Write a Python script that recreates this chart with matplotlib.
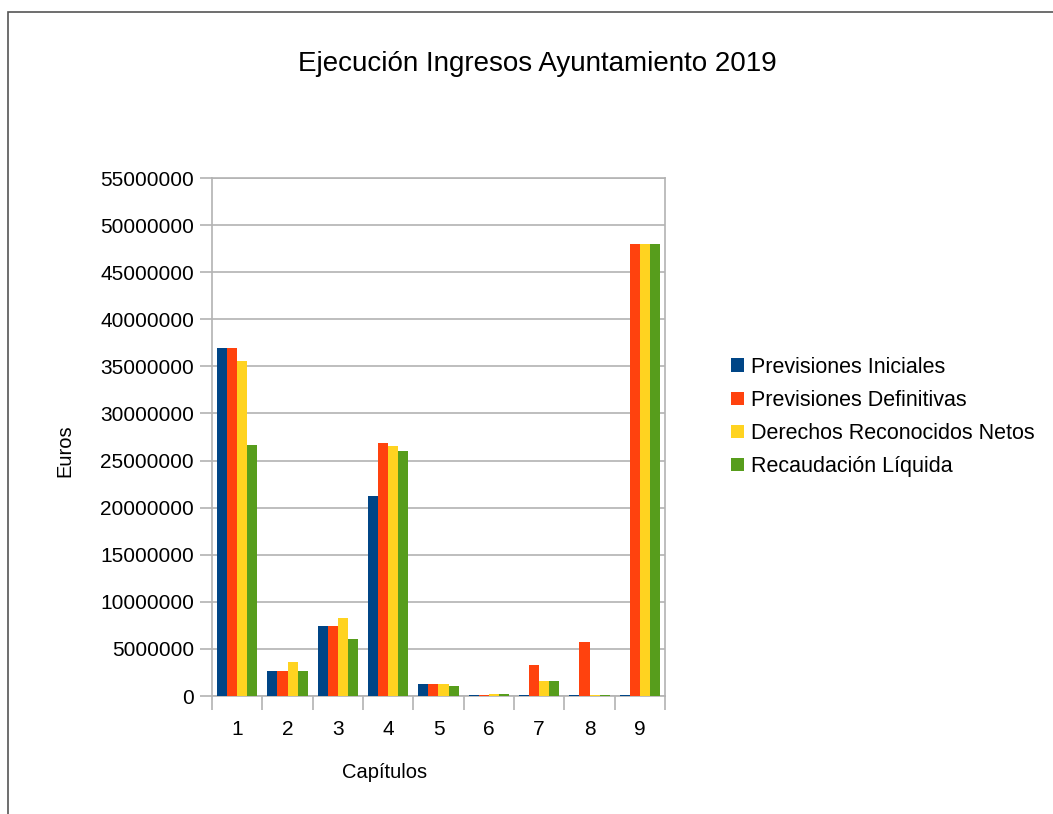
import matplotlib.pyplot as plt
import numpy as np
from matplotlib.patches import Rectangle

plt.rcParams['font.family'] = ['Liberation Sans', 'DejaVu Sans']

capitulos = ['1', '2', '3', '4', '5', '6', '7', '8', '9']
series = ['Previsiones Iniciales', 'Previsiones Definitivas',
          'Derechos Reconocidos Netos', 'Recaudación Líquida']
previsiones_iniciales = [36900000, 2650000, 7430000, 21200000, 1270000, 90000, 90000, 90000, 90000]
previsiones_definitivas = [36900000, 2650000, 7430000, 26900000, 1270000, 90000, 3300000, 5730000, 48000000]
derechos_reconocidos = [35600000, 3600000, 8280000, 26500000, 1270000, 200000, 1600000, 90000, 48000000]
recaudacion_liquida = [26600000, 2650000, 6050000, 26000000, 1060000, 200000, 1600000, 90000, 48000000]
colores = ['#004586', '#ff420e', '#ffd320', '#579d1c']

W, H = 1053, 814
fig = plt.figure(figsize=(W / 100, H / 100), dpi=100)
# marco exterior del grafico
fig.patches.append(Rectangle((8 / W, -0.1), 1.2, 1 - 12 / H + 0.1,
                             transform=fig.transFigure, fill=False,
                             edgecolor='#555555', linewidth=1.2))

ax = fig.add_axes([212 / W, 1 - 696 / H, 453 / W, 518 / H])

valores = [previsiones_iniciales, previsiones_definitivas, derechos_reconocidos, recaudacion_liquida]
x = np.arange(len(capitulos))
ancho = 0.2
for i, (nombre, datos) in enumerate(zip(series, valores)):
    ax.bar(x + (i - 1.5) * ancho, datos, ancho, color=colores[i], label=nombre, zorder=3)

ax.set_xlim(-0.5, len(capitulos) - 0.5)
ax.set_ylim(0, 55000000)
ax.set_yticks(np.arange(0, 55000001, 5000000))
ax.set_yticklabels([str(v) for v in range(0, 55000001, 5000000)])
ax.set_xticks(x)
ax.set_xticklabels(capitulos)
ax.set_xticks(np.arange(-0.5, len(capitulos), 1), minor=True)
ax.tick_params(axis='x', which='major', length=0, pad=17, labelsize=15)
ax.tick_params(axis='x', which='minor', length=10, color='#b3b3b3', width=1.2)
ax.tick_params(axis='y', length=9, color='#b3b3b3', width=1.2, labelsize=15, pad=4)
ax.grid(axis='y', color='#b3b3b3', linewidth=1.2, zorder=0)
for s in ax.spines.values():
    s.set_color('#b3b3b3')
    s.set_linewidth(1.2)

fig.text(385 / W, 1 - 773 / H, 'Capítulos', fontsize=14.5, ha='center', va='center')
fig.text(65 / W, 1 - 451 / H, 'Euros', fontsize=14.5, ha='center', va='center',
         rotation=90)
fig.text(537 / W, 1 - 64 / H, 'Ejecución Ingresos Ayuntamiento 2019',
         fontsize=20, ha='center', va='center')

ax.legend(loc='center left', bbox_to_anchor=(731 / W, 1 - 417 / H),
          bbox_transform=fig.transFigure, frameon=False, fontsize=15.5,
          handlelength=0.6, handleheight=0.6, handletextpad=0.35,
          labelspacing=0.56, borderaxespad=0, borderpad=0)

fig.savefig('out.png', dpi=100)
